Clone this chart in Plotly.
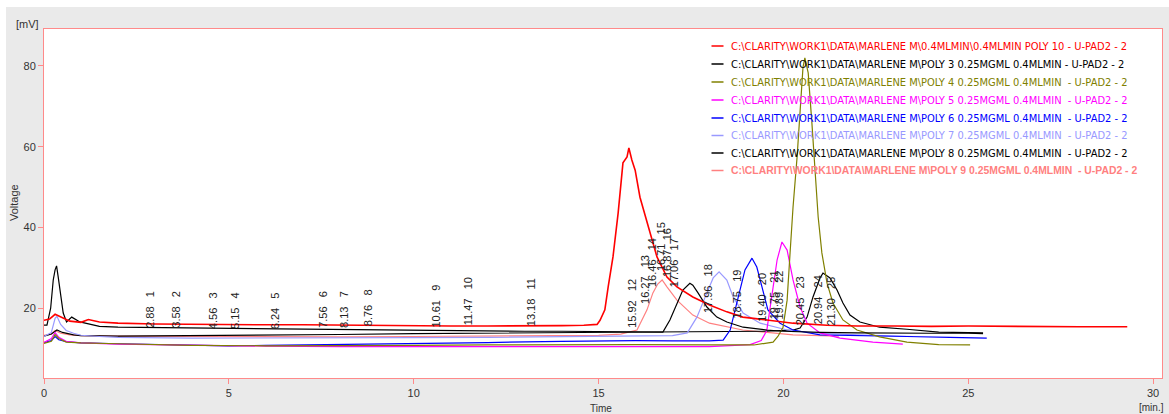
import plotly.graph_objects as go

# ---- chromatogram traces (time in min, signal in mV) ----
poly10_t = [0, 0.15, 0.3, 0.45, 0.7, 1.0, 1.2, 1.5, 2, 3, 4, 5, 6, 7, 8, 9, 10, 11, 12, 13, 14,
            14.6, 14.96, 15.04, 15.17, 15.26, 15.39, 15.53, 15.66, 15.77, 15.82, 15.9, 15.99, 16.12,
            16.31, 16.45, 16.58, 16.85, 17.12, 17.55, 18.0, 18.47, 18.9, 19.55, 20.26, 21.18, 22, 23,
            24, 25, 26, 27, 28, 29.3]
poly10_v = [17.0, 17.3, 18.5, 17.8, 16.8, 16.5, 17.2, 16.6, 16.3, 16.1, 16.0, 15.9, 15.9, 15.9, 15.8,
            15.7, 15.7, 15.6, 15.6, 15.6, 15.7, 15.8, 16.0, 17.0, 19.6, 25.3, 32.7, 43.6, 56.0, 57.5,
            59.7, 56.7, 54.2, 47.5, 41.1, 36.9, 32.7, 27.7, 25.3, 22.8, 20.8, 19.1, 17.8, 17.1, 16.3,
            15.8, 15.6, 15.6, 15.5, 15.6, 15.5, 15.5, 15.4, 15.4]

poly3_t = [0, 0.08, 0.18, 0.25, 0.3, 0.34, 0.38, 0.43, 0.52, 0.61, 0.75, 0.97, 1.5, 2, 3, 4, 5, 6, 7,
           8, 9, 10, 11, 12, 13, 14, 15, 16, 16.5, 16.74, 16.93, 17.12, 17.28, 17.47, 17.55, 17.69,
           17.93, 18.2, 18.47, 18.91, 19.55, 20, 21, 22, 23, 24, 25, 25.4]
poly3_v = [15.8, 15.8, 20.0, 27.0, 29.5, 30.5, 28.0, 24.5, 18.8, 16.6, 17.8, 16.6, 15.5, 15.3, 15.2,
           15.1, 15.0, 15.0, 14.9, 14.7, 14.6, 14.5, 14.4, 14.4, 14.3, 14.3, 14.2, 14.2, 14.2, 14.1,
           17.1, 21.3, 24.5, 26.2, 25.7, 23.8, 20.3, 17.8, 16.6, 15.3, 14.6, 14.3, 14.0, 13.9, 13.8,
           13.8, 13.8, 13.7]

poly4_t = [0, 0.2, 0.3, 0.4, 0.6, 1, 2, 4, 6, 8, 10, 12, 14, 16, 18, 19.2, 19.72, 19.85, 19.99,
           20.1, 20.18, 20.26, 20.37, 20.45, 20.53, 20.58, 20.67, 20.77, 20.85, 20.94, 21.04, 21.18,
           21.34, 21.61, 21.99, 22.6, 23.34, 24.2, 25.05]
poly4_v = [11.3, 11.8, 13.5, 12.5, 11.6, 11.4, 11.2, 10.8, 10.7, 10.7, 10.8, 10.9, 11.0, 11.0, 10.9,
           10.9, 11.6, 13.0, 15.3, 22.0, 33.7, 45.0, 57.5, 69.8, 79.7, 82.0, 78.3, 65.9, 53.5, 42.6,
           33.7, 26.2, 21.3, 17.1, 14.6, 12.9, 11.6, 11.0, 10.9]

poly5_t = [0, 0.2, 0.3, 0.4, 0.6, 1, 2, 4, 6, 8, 10, 12, 14, 16, 18, 19.1, 19.4, 19.55, 19.69,
           19.83, 19.96, 20.1, 20.26, 20.45, 20.64, 20.99, 21.53, 22.42, 23.23]
poly5_v = [11.5, 12.5, 14.0, 12.8, 11.8, 11.4, 11.1, 10.8, 10.6, 10.5, 10.5, 10.4, 10.4, 10.4, 10.5,
           11.0, 12.0, 14.5, 23.8, 32.0, 36.4, 34.4, 27.0, 20.3, 16.3, 13.9, 12.6, 11.6, 11.1]

poly6_t = [0, 0.2, 0.3, 0.4, 0.6, 1, 2, 3, 4, 5, 6, 8, 10, 12, 14, 16, 17, 18, 18.37, 18.56, 18.74,
           18.96, 19.15, 19.28, 19.42, 19.58, 19.91, 20.26, 20.99, 22, 23.34, 24.5, 25.5]
poly6_v = [11.5, 12.0, 13.0, 12.2, 11.7, 11.4, 11.2, 11.0, 10.8, 10.7, 10.8, 11.0, 11.3, 11.5, 11.8,
           12.0, 11.9, 11.9, 12.1, 14.6, 21.3, 29.5, 32.4, 30.2, 25.3, 19.6, 16.3, 14.6, 13.4, 13.3,
           13.0, 12.8, 12.6]

poly7_t = [0, 0.2, 0.3, 0.35, 0.45, 0.6, 0.8, 1, 1.5, 2, 4, 6, 8, 10, 12, 14, 16, 17, 17.4, 17.66,
           17.93, 18.1, 18.26, 18.47, 18.64, 18.91, 19.37, 20.1, 21, 22, 23.5]
poly7_v = [13.0, 14.0, 17.5, 18.0, 16.0, 14.5, 13.8, 13.3, 13.0, 12.8, 12.6, 12.6, 12.6, 12.7, 12.8,
           12.9, 13.0, 13.2, 13.9, 17.8, 23.8, 27.5, 29.0, 27.0, 22.8, 18.8, 16.3, 14.6, 13.8, 13.4,
           13.0]

poly8_t = [0, 0.2, 0.35, 0.5, 0.8, 1, 2, 4, 6, 8, 10, 12, 14, 16, 18, 19.5, 20.26, 20.45, 20.64,
           20.8, 20.99, 21.07, 21.26, 21.45, 21.61, 21.8, 22.07, 22.6, 23.34, 24.2, 25.4]
poly8_v = [13.1, 13.6, 14.6, 14.0, 13.4, 13.2, 13.1, 13.2, 13.3, 13.5, 13.7, 13.8, 13.9, 14.0, 14.1,
           14.3, 14.6, 15.1, 17.8, 22.8, 27.5, 28.7, 27.5, 24.5, 21.3, 18.3, 16.6, 15.3, 14.8, 14.1,
           13.9]

poly9_t = [0, 0.2, 0.3, 0.45, 0.7, 1, 2, 4, 6, 8, 10, 12, 14, 15, 15.6, 16.04, 16.31, 16.47, 16.6,
           16.72, 16.85, 17.12, 17.55, 18.0, 18.9, 20.26, 21.5]
poly9_v = [13.3, 13.6, 14.5, 13.8, 13.4, 13.2, 13.1, 13.0, 12.9, 12.9, 13.0, 13.1, 13.2, 13.3, 13.6,
           14.6, 19.6, 23.8, 26.0, 27.0, 25.3, 22.0, 18.3, 16.3, 14.6, 13.4, 13.1]

series_names = [
    r"C:\CLARITY\WORK1\DATA\MARLENE M\0.4MLMIN\0.4MLMIN POLY 10 - U-PAD2 - 2",
    r"C:\CLARITY\WORK1\DATA\MARLENE M\POLY 3 0.25MGML 0.4MLMIN - U-PAD2 - 2",
    r"C:\CLARITY\WORK1\DATA\MARLENE M\POLY 4 0.25MGML 0.4MLMIN  - U-PAD2 - 2",
    r"C:\CLARITY\WORK1\DATA\MARLENE M\POLY 5 0.25MGML 0.4MLMIN  - U-PAD2 - 2",
    r"C:\CLARITY\WORK1\DATA\MARLENE M\POLY 6 0.25MGML 0.4MLMIN  - U-PAD2 - 2",
    r"C:\CLARITY\WORK1\DATA\MARLENE M\POLY 7 0.25MGML 0.4MLMIN  - U-PAD2 - 2",
    r"C:\CLARITY\WORK1\DATA\MARLENE M\POLY 8 0.25MGML 0.4MLMIN  - U-PAD2 - 2",
    r"C:\CLARITY\WORK1\DATA\MARLENE M\POLY 9 0.25MGML 0.4MLMIN  - U-PAD2 - 2",
]
series_colors = ["#FF0000", "#000000", "#808000", "#FF00FF", "#0000FF", "#9999FF", "#000000", "#FF8080"]
series_t = [poly10_t, poly3_t, poly4_t, poly5_t, poly6_t, poly7_t, poly8_t, poly9_t]
series_v = [poly10_v, poly3_v, poly4_v, poly5_v, poly6_v, poly7_v, poly8_v, poly9_v]

# ---- integrated peak marks: retention time, peak number, height of label top ----
peak_times = ["2.88", "3.58", "4.56", "5.15", "6.24", "7.56", "8.13", "8.76", "10.61", "11.47",
              "13.18", "15.92", "16.27", "16.46", "16.71", "16.87", "17.06", "17.96", "18.75",
              "19.40", "19.75", "19.89", "20.45", "20.94", "21.30"]
peak_numbers = list(range(1, 26))
peak_label_top = [24.8, 24.8, 24.5, 24.5, 24.5, 24.8, 24.8, 25.3, 26.3, 28.2, 28.0, 27.8, 33.7, 37.9,
                  41.9, 40.4, 37.9, 31.3, 30.0, 29.2, 29.8, 29.8, 28.3, 28.6, 28.3]

x_ticks = [0, 5, 10, 15, 20, 25, 30]
y_ticks = [20, 40, 60, 80]

W, H = 1169, 414
ML, MR, MT, MB = 44, 7, 29, 36
PW, PH = W - ML - MR, H - MT - MB
FRAME = "#FF8A8A"
TXT = "#333333"
FONT = "Liberation Sans, Arial, sans-serif"
NARROW = "Liberation Sans Narrow, DejaVu Sans Condensed, Liberation Sans, sans-serif"


def px_x(px):
    return (px - ML) / PW


def px_y(py):
    return (H - MB - py) / PH


fig = go.Figure()

# later traces sit on top: draw from the last series to the first
for i in reversed(range(len(series_names))):
    fig.add_trace(go.Scatter(
        x=series_t[i], y=series_v[i], mode="lines",
        line=dict(color=series_colors[i], width=1.6 if i == 0 else 1.2),
        name=series_names[i], showlegend=False, hoverinfo="skip",
    ))

annotations = []
shapes = []

# peak labels, rotated, reading bottom-to-top
for t, n, top in zip(peak_times, peak_numbers, peak_label_top):
    annotations.append(dict(
        x=float(t), y=top, xref="x", yref="y", text=f"{t}   {n}", textangle=-90,
        xanchor="center", yanchor="top", showarrow=False,
        font=dict(family=FONT, size=11, color="#222222"),
    ))

# legend block: short colour bar plus file name in the series colour
row_y = [46, 64, 82, 100, 118, 135.5, 153, 170.5]
for i, (name, col) in enumerate(zip(series_names, series_colors)):
    yp = px_y(row_y[i])
    shapes.append(dict(type="line", xref="paper", yref="paper",
                       x0=px_x(711.5), x1=px_x(723.5), y0=yp, y1=yp,
                       line=dict(color=col, width=1.5)))
    if i == len(series_names) - 1:
        txt = f"<b>{name}</b>"
        fnt = dict(family=FONT, size=10.4, color=col)
    else:
        txt = name
        fnt = dict(family=NARROW, size=11, color=col)
    annotations.append(dict(x=px_x(729), y=yp, xref="paper", yref="paper", text=txt,
                            xanchor="left", yanchor="middle", showarrow=False, font=fnt))

# axis captions
annotations += [
    dict(x=px_x(27), y=px_y(24.5), xref="paper", yref="paper", text="[mV]", showarrow=False,
         xanchor="center", yanchor="middle", font=dict(family=FONT, size=11, color=TXT)),
    dict(x=px_x(14), y=px_y(203), xref="paper", yref="paper", text="Voltage", textangle=-90,
         showarrow=False, xanchor="center", yanchor="middle",
         font=dict(family=FONT, size=11, color=TXT)),
    dict(x=px_x(601), y=px_y(401), xref="paper", yref="paper", text="Time", showarrow=False,
         xanchor="center", yanchor="top", font=dict(family=FONT, size=10, color=TXT)),
    dict(x=px_x(1137), y=px_y(400), xref="paper", yref="paper", text="[min.]", showarrow=False,
         xanchor="left", yanchor="top", font=dict(family=FONT, size=10, color=TXT)),
]

# white page edge around the grey panel
shapes += [
    dict(type="rect", xref="paper", yref="paper", x0=px_x(-20), x1=px_x(6), y0=px_y(500),
         y1=px_y(-20), fillcolor="white", line=dict(width=0), layer="below"),
    dict(type="rect", xref="paper", yref="paper", x0=px_x(-20), x1=px_x(1200), y0=px_y(7),
         y1=px_y(-20), fillcolor="white", line=dict(width=0), layer="below"),
]

axis_common = dict(
    showgrid=False, zeroline=False, showline=True, linecolor=FRAME, linewidth=1, mirror=True,
    ticks="outside", ticklen=5, tickwidth=1, tickcolor=FRAME,
    tickfont=dict(family=FONT, size=11, color=TXT),
)

fig.update_layout(
    width=W, height=H, autosize=False,
    margin=dict(l=ML, r=MR, t=MT, b=MB, pad=0),
    paper_bgcolor="#EAEAEA", plot_bgcolor="white",
    xaxis=dict(range=[0, 30.24], tickvals=x_ticks, **axis_common),
    yaxis=dict(range=[2.72, 89.16], tickvals=y_ticks, **axis_common),
    annotations=annotations, shapes=shapes, showlegend=False,
)

fig.write_html("out.html")
